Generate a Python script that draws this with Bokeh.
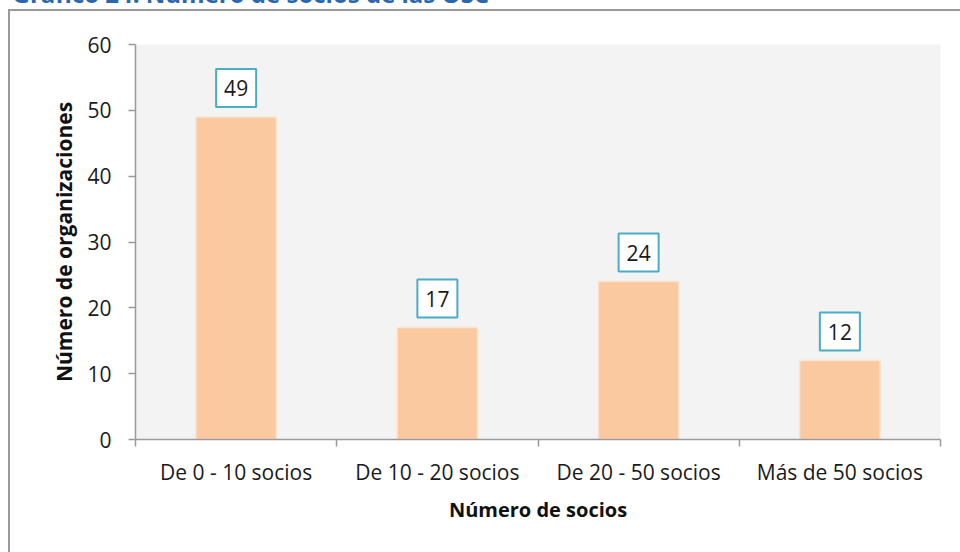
from bokeh.plotting import figure
from bokeh.models import FixedTicker, ColumnDataSource, Range1d
from bokeh.core.properties import value
from bokeh.embed import file_html
from bokeh.resources import INLINE
import numpy as np

categories = ["De 0 - 10 socios", "De 10 - 20 socios", "De 20 - 50 socios", "Más de 50 socios"]
values = [49, 17, 24, 12]
y_ticks = [0, 10, 20, 30, 40, 50, 60]
title_text = "Gráfico 24. Número de socios de las OSC"
x_title = "Número de socios"
y_title = "Número de organizaciones"

FONT = "Open Sans"
H = 70  # extra canvas height above the visible page (title is cut off at top, as in the reference)
xpos = np.arange(len(categories)) + 0.5

src = ColumnDataSource(dict(x=xpos, top=values, label=[str(v) for v in values]))

p = figure(width=960, height=552 + H, output_backend="svg", toolbar_location=None,
           x_range=Range1d(0, len(categories)), y_range=Range1d(0, 60),
           min_border_left=135, min_border_right=20, min_border_top=44 + H, min_border_bottom=113)
p.styles = {
    "margin-top": f"-{H}px",
    "background-color": "white",
    "background-image": "linear-gradient(#9a9a9a, #9a9a9a), linear-gradient(#9a9a9a, #9a9a9a)",
    "background-size": "960px 2px, 2px 800px",
    "background-position": f"8px {9 + H}px, 8px {9 + H}px",
    "background-repeat": "no-repeat",
}
p.background_fill_color = "#f3f3f3"
p.border_fill_color = None
p.outline_line_color = None
p.grid.visible = False

p.title.text = title_text
p.title.align = "left"
p.title.offset = -123
p.title.vertical_align = "bottom"
p.title.standoff = 69
p.title.text_font = FONT
p.title.text_font_size = "24px"
p.title.text_font_style = "bold"
p.title.text_color = "#2a68ae"

p.vbar(x="x", top="top", width=0.4, bottom=0, source=src,
       fill_color="#fac9a0", line_color="#fbe3cf", line_width=1.5)

p.text(x="x", y="top", text="label", source=src, y_offset=-29,
       text_align="center", text_baseline="middle",
       text_font=value(FONT), text_font_size="21px", text_color="#1a1a1a",
       background_fill_color="white", border_line_color="#4bacc6",
       border_line_width=2, padding=dict(left=8, right=8, top=11, bottom=11))

# y axis
ya = p.yaxis[0]
ya.ticker = FixedTicker(ticks=y_ticks)
ya.axis_line_color = "#9a9a9a"
ya.axis_line_width = 1.5
ya.major_tick_line_color = "#9a9a9a"
ya.major_tick_line_width = 1.5
ya.major_tick_out = 7
ya.major_tick_in = 0
ya.minor_tick_line_color = None
ya.major_label_text_font = FONT
ya.major_label_text_font_size = "21px"
ya.major_label_text_color = "#1a1a1a"
ya.major_label_standoff = 17
ya.axis_label = y_title
ya.axis_label_text_font = FONT
ya.axis_label_text_font_size = "21px"
ya.axis_label_text_font_style = "bold"
ya.axis_label_text_color = "#111111"
ya.axis_label_standoff = 6

# x axis
xa = p.xaxis[0]
xa.ticker = FixedTicker(ticks=list(xpos), minor_ticks=list(range(len(categories) + 1)))
xa.major_label_overrides = {float(x): c for x, c in zip(xpos, categories)}
xa.axis_line_color = "#9a9a9a"
xa.axis_line_width = 1.5
xa.major_tick_line_color = None
xa.major_tick_out = 0
xa.major_tick_in = 0
xa.minor_tick_line_color = "#9a9a9a"
xa.minor_tick_line_width = 1.5
xa.minor_tick_out = 7
xa.minor_tick_in = 0
xa.major_label_text_font = FONT
xa.major_label_text_font_size = "21px"
xa.major_label_text_color = "#1a1a1a"
xa.major_label_standoff = 11
xa.axis_label = x_title
xa.axis_label_text_font = FONT
xa.axis_label_text_font_size = "20px"
xa.axis_label_text_font_style = "bold"
xa.axis_label_text_color = "#111111"
xa.axis_label_standoff = 7

open("out.html", "w").write(file_html(p, INLINE))
